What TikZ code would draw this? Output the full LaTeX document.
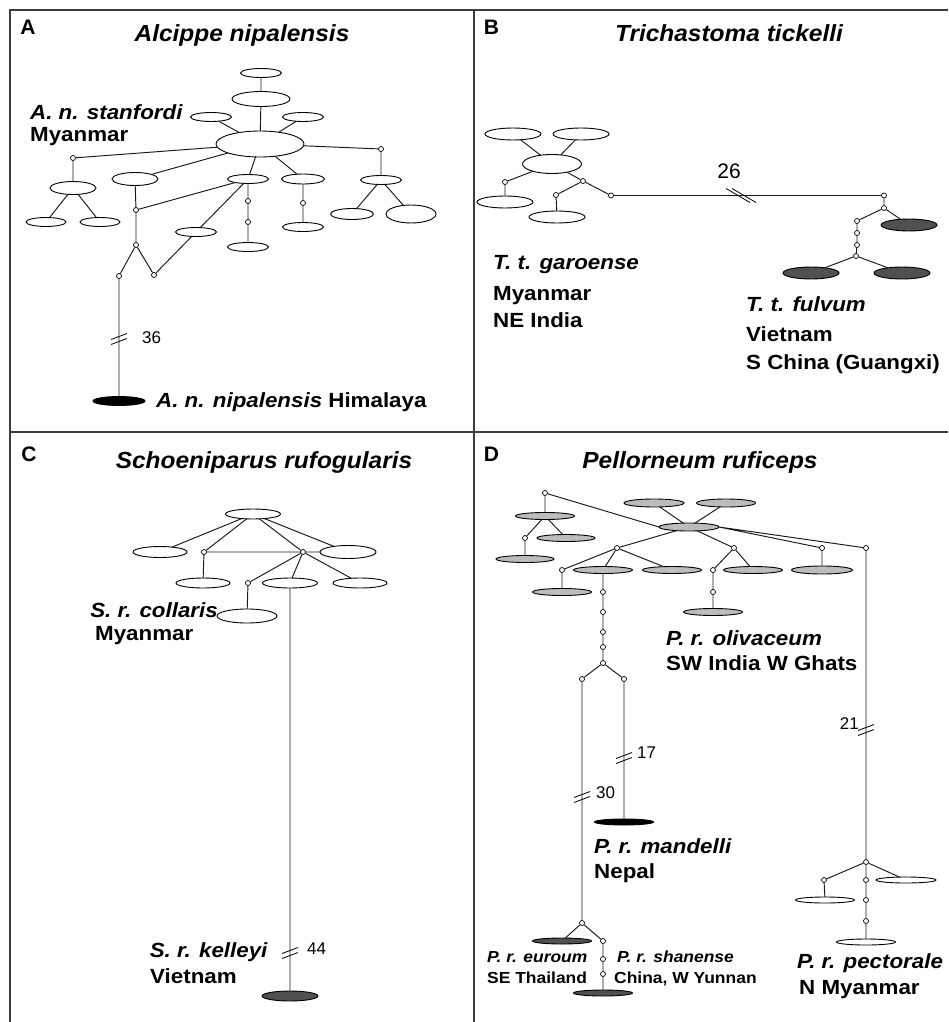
\documentclass[tikz,border=0pt]{standalone}
\usepackage{fontspec}
\setmainfont{Liberation Sans}
\newfontfamily\labf{Liberation Sans}[FakeStretch=1.09]
\newfontfamily\ttlf{Liberation Sans}[FakeStretch=1.05]
\usetikzlibrary{shapes.geometric}
\definecolor{hgray}{RGB}{188,188,188}
\definecolor{hdark}{RGB}{80,80,80}
\definecolor{framec}{RGB}{60,60,60}
\tikzset{
 hap/.style={ellipse, draw=black, line width=0.9pt, fill=white, inner sep=0pt, outer sep=0pt},
 sz/.style 2 args={minimum width=#1pt, minimum height=#2pt},
 hg/.style={hap, fill=hgray},
 hd/.style={hap, fill=hdark},
 hk/.style={hap, fill=black},
 mv/.style={circle, draw=black, fill=white, line width=0.7pt, minimum size=5pt, inner sep=0pt},
 con/.style={line width=0.95pt, draw=black!90},
 lab/.style={anchor=base west, inner sep=0pt, font=\labf\bfseries\fontsize{20.5}{23}\selectfont},
 slab/.style={anchor=base west, inner sep=0pt, font=\labf\bfseries\fontsize{16}{18}\selectfont},
 num/.style={anchor=base west, inner sep=0pt, font=\fontsize{17}{20}\selectfont},
 ttl/.style={inner sep=0pt, anchor=base, font=\ttlf\bfseries\itshape\fontsize{23.3}{26}\selectfont},
 plab/.style={inner sep=0pt, anchor=base, font=\bfseries\fontsize{21}{24}\selectfont},
 brk/.style={line width=0.8pt, draw=black}
}
\newcommand\vbrk[2]{\draw[brk] (#1-8,#2+0.5) -- (#1+8,#2-5.5); \draw[brk] (#1-8,#2+5.5) -- (#1+8,#2-0.5);}
\newcommand\hbrk[2]{\draw[brk] (#1-15,#2-7) -- (#1+9,#2+7); \draw[brk] (#1-9,#2-7) -- (#1+15,#2+7);}
\begin{document}
\begin{tikzpicture}[x=1pt,y=-1pt]
\useasboundingbox (0,0) rectangle (948,1022);
% frame
\draw[framec, line width=1.5pt] (10,1022) -- (10,10) -- (948,10);
\draw[framec, line width=1.5pt] (474,10) -- (474,1022);
\draw[framec, line width=1.5pt] (10,432) -- (948,432);
% panel titles
\node[plab] (pA) at (28,35) {A};
\node[ttl] (tA) at (242,42) {Alcippe nipalensis};
\node[plab] (pB) at (491.5,35) {B};
\node[ttl] (tB) at (729,42) {Trichastoma tickelli};
\node[plab] (pC) at (29,461) {C};
\node[ttl] (tC) at (264,468) {Schoeniparus rufogularis};
\node[plab] (pD) at (491.5,461) {D};
\node[ttl] (tD) at (700,468) {Pellorneum ruficeps};

% ---------------- Panel A
\node[hap,sz={41}{9}] (a1) at (261,73) {};
\node[hap,sz={58}{15}] (a2) at (261,99) {};
\node[hap,sz={41}{9}] (a3) at (211,117) {};
\node[hap,sz={41}{9}] (a4) at (303,117) {};
\node[hap,sz={88}{26}] (a0) at (260,144) {};
\node[mv] (am1) at (73,158) {};
\node[mv] (am2) at (381,149) {};
\node[hap,sz={46}{13}] (a5) at (73,188) {};
\node[hap,sz={40}{9}] (a6) at (46,222) {};
\node[hap,sz={40}{9}] (a7) at (100,222) {};
\node[hap,sz={46}{13}] (a8) at (135,179) {};
\node[mv] (am3) at (136,210) {};
\node[mv] (am4) at (136,245) {};
\node[hap,sz={41}{9}] (a9) at (248,179) {};
\node[mv] (am5) at (248,201) {};
\node[mv] (am6) at (248,222) {};
\node[hap,sz={41}{9}] (a10) at (248,247) {};
\node[hap,sz={41}{9}] (a11) at (196,232) {};
\node[mv] (am7) at (154,275) {};
\node[mv] (am8) at (119,276) {};
\node[hk,sz={52}{9}] (ak) at (119,401) {};
\node[hap,sz={43}{10}] (a12) at (303,179) {};
\node[mv] (am9) at (303,203) {};
\node[hap,sz={41}{9}] (a13) at (303,227) {};
\node[hap,sz={41}{9}] (a14) at (381,180) {};
\node[hap,sz={43}{11}] (a15) at (352,214) {};
\node[hap,sz={50}{18}] (a16) at (411,214) {};
\draw[con] (a1)--(a2) (a2)--(a0) (a3)--(a0) (a4)--(a0) (a0)--(am1) (a0)--(am2)
  (am1)--(a5) (a5)--(a6) (a5)--(a7) (a8)--(a0) (a8)--(am3) (am3)--(am4) (am3)--(a9)
  (a9)--(a0) (a9)--(am5) (am5)--(am6) (am6)--(a10) (a9)--(a11) (a11)--(am7)
  (am4)--(am7) (am4)--(am8) (am8)--(ak) (a12)--(a0) (a12)--(am9) (am9)--(a13)
  (am2)--(a14) (a14)--(a15) (a14)--(a16);
\vbrk{119}{339}
\node[num] (n36) at (142,343) {36};
\node[lab] (la1) at (30,120) {\textit{A. n. stanfordi}};
\node[lab] (la2) at (30,142) {Myanmar};
\node[lab] (la3) at (156,407) {\textit{A. n. nipalensis} Himalaya};

% ---------------- Panel B
\node[hap,sz={56}{12}] (b1) at (513,134) {};
\node[hap,sz={56}{12}] (b2) at (581,134) {};
\node[hap,sz={59}{19}] (b0) at (552,164) {};
\node[mv] (bm1) at (505,182) {};
\node[hap,sz={56}{12}] (b3) at (505,202) {};
\node[mv] (bm2) at (583,181) {};
\node[mv] (bm3) at (556,195) {};
\node[hap,sz={56}{12}] (b4) at (557,217) {};
\node[mv] (bm4) at (611,195.5) {};
\node[mv] (bm5) at (884,195.5) {};
\node[mv] (bm6) at (884,208) {};
\node[hd,sz={56}{12}] (bd1) at (909,225) {};
\node[mv] (bm7) at (857,221) {};
\node[mv] (bm8) at (857,233) {};
\node[mv] (bm9) at (857,245) {};
\node[mv] (bm10) at (856,256) {};
\node[hd,sz={56}{12}] (bd2) at (811,273) {};
\node[hd,sz={56}{12}] (bd3) at (902,273) {};
\draw[con] (b1)--(b0) (b2)--(b0) (b0)--(bm1) (bm1)--(b3) (b0)--(bm2) (bm2)--(bm3)
  (bm3)--(b4) (bm2)--(bm4) (bm4)--(bm5) (bm5)--(bm6) (bm6)--(bd1) (bm6)--(bm7)
  (bm7)--(bm8) (bm8)--(bm9) (bm9)--(bm10) (bm10)--(bd2) (bm10)--(bd3);
\hbrk{741}{195.5}
\node[anchor=base,inner sep=0pt,font=\fontsize{21}{24}\selectfont] (n26) at (729,178) {26};
\node[lab] (lb1) at (493,269) {\textit{T. t. garoense}};
\node[lab] (lb2) at (493,300) {Myanmar};
\node[lab] (lb3) at (493,327) {NE India};
\node[lab] (lb4) at (746,311) {\textit{T. t. fulvum}};
\node[lab] (lb5) at (746,341) {Vietnam};
\node[lab] (lb6) at (746,369) {S China (Guangxi)};

% ---------------- Panel C
\node[hap,sz={55}{10}] (c0) at (253,514) {};
\node[hap,sz={54}{11}] (c1) at (160,552) {};
\node[mv] (cm1) at (204,552) {};
\node[mv] (cm2) at (303,552) {};
\node[hap,sz={56}{13}] (c2) at (348,552) {};
\node[hap,sz={54}{10}] (c3) at (203,583) {};
\node[mv] (cm3) at (248,583) {};
\node[hap,sz={55}{10}] (c4) at (290,583) {};
\node[hap,sz={54}{10}] (c5) at (360,583) {};
\node[hap,sz={60}{14}] (c6) at (247,616) {};
\node[hd,sz={56}{10}] (cd) at (290,996) {};
\draw[con] (c0)--(c1) (c0)--(cm1) (c0)--(cm2) (c0)--(c2) (cm1)--(cm2) (cm2)--(c2)
  (cm1)--(c3) (cm2)--(cm3) (cm2)--(c4) (cm2)--(c5) (cm3)--(c6) (c4)--(cd);
\vbrk{290}{953}
\node[num] (n44) at (307,954) {44};
\node[lab,anchor=base east] (lc1) at (218,617) {\textit{S. r. collaris}};
\node[lab] (lc2) at (95,640) {Myanmar};
\node[lab,anchor=base east] (lc3) at (268,957) {\textit{S. r. kelleyi}};
\node[lab] (lc4) at (150,983) {Vietnam};

% ---------------- Panel D
\node[mv] (dm1) at (545,493) {};
\node[hg,sz={59}{7}] (dg1) at (545,516) {};
\node[mv] (dm2) at (525,538) {};
\node[hg,sz={58}{7}] (dg2) at (566,538) {};
\node[hg,sz={58}{7}] (dg3) at (525,559) {};
\node[hg,sz={60}{8}] (dg0) at (689,527) {};
\node[hg,sz={60}{8}] (dg4) at (654,503) {};
\node[hg,sz={59}{8}] (dg5) at (726,503) {};
\node[mv] (dm3) at (617,548) {};
\node[mv] (dm4) at (562,570) {};
\node[hg,sz={59}{7}] (dg6) at (603,570) {};
\node[hg,sz={59}{7}] (dg7) at (672,570) {};
\node[hg,sz={59}{7}] (dg8) at (562,592) {};
\node[mv] (dm5) at (603,592) {};
\node[mv] (dm6) at (603,612) {};
\node[mv] (dm7) at (603,632) {};
\node[mv] (dm8) at (603,647) {};
\node[mv] (dm9) at (603,663) {};
\node[mv] (dm10) at (582,679) {};
\node[mv] (dm11) at (624,679) {};
\node[mv] (dm12) at (734,548) {};
\node[mv] (dm13) at (713,570) {};
\node[hg,sz={59}{7}] (dg9) at (753,570) {};
\node[mv] (dm14) at (713,592) {};
\node[hg,sz={59}{7}] (dg10) at (713,612) {};
\node[mv] (dm15) at (822,548) {};
\node[hg,sz={61}{8}] (dg11) at (822,570) {};
\node[mv] (dm16) at (866,548) {};
\node[mv] (dm17) at (866,862) {};
\node[mv] (dm18) at (824,880) {};
\node[mv] (dm19) at (866,880) {};
\node[hap,sz={60}{6}] (dw1) at (906,880) {};
\node[hap,sz={59}{6}] (dw2) at (825,900) {};
\node[mv] (dm20) at (866,900) {};
\node[mv] (dm21) at (866,921) {};
\node[hap,sz={59}{6}] (dw3) at (866,942) {};
\node[hk,sz={59}{6}] (dk) at (624,822) {};
\node[mv] (dm22) at (582,923) {};
\node[hd,sz={59}{6}] (dd1) at (562,941) {};
\node[mv] (dm23) at (603,941) {};
\node[mv] (dm24) at (603,959) {};
\node[mv] (dm25) at (603,974) {};
\node[hd,sz={59}{6}] (dd2) at (603,993) {};
\draw[con] (dm1)--(dg1) (dg1)--(dm2) (dg1)--(dg2) (dm2)--(dg3) (dm1)--(dg0.west)
  (dg4)--(dg0) (dg5)--(dg0) (dg0)--(dm3) (dm3)--(dm4) (dm3)--(dg6) (dm3)--(dg7)
  (dm4)--(dg8) (dg6)--(dm5) (dm5)--(dm6) (dm6)--(dm7) (dm7)--(dm8) (dm8)--(dm9)
  (dm9)--(dm10) (dm9)--(dm11) (dm10)--(dm22) (dm11)--(dk)
  (dg0)--(dm12) (dm12)--(dm13) (dm12)--(dg9) (dm13)--(dm14) (dm14)--(dg10)
  (dg0.east)--(dm15) (dg0.east)--(dm16) (dm15)--(dg11) (dm16)--(dm17)
  (dm17)--(dm18) (dm17)--(dm19) (dm17)--(dw1) (dm18)--(dw2) (dm19)--(dm20)
  (dm20)--(dm21) (dm21)--(dw3) (dm22)--(dd1) (dm22)--(dm23) (dm23)--(dm24)
  (dm24)--(dm25) (dm25)--(dd2);
\vbrk{582}{797}
\vbrk{624}{758}
\vbrk{866}{730}
\node[num] (n17) at (637,758) {17};
\node[num] (n30) at (596,798) {30};
\node[num,anchor=base east] (n21) at (859,729) {21};
\node[lab] (ld1) at (666,645) {\textit{P. r. olivaceum}};
\node[lab] (ld2) at (666,670) {SW India W Ghats};
\node[lab] (ld3) at (594,853) {\textit{P. r. mandelli}};
\node[lab] (ld4) at (594,878) {Nepal};
\node[slab] (ld5) at (487,962) {\textit{P. r. euroum}};
\node[slab] (ld6) at (487,983) {SE Thailand};
\node[slab] (ld7) at (617,962) {\textit{P. r. shanense}};
\node[slab] (ld8) at (614,983) {China, W Yunnan};
\node[lab] (ld9) at (797,968) {\textit{P. r. pectorale}};
\node[lab] (ld10) at (799,994) {N Myanmar};
\end{tikzpicture}
\end{document}
